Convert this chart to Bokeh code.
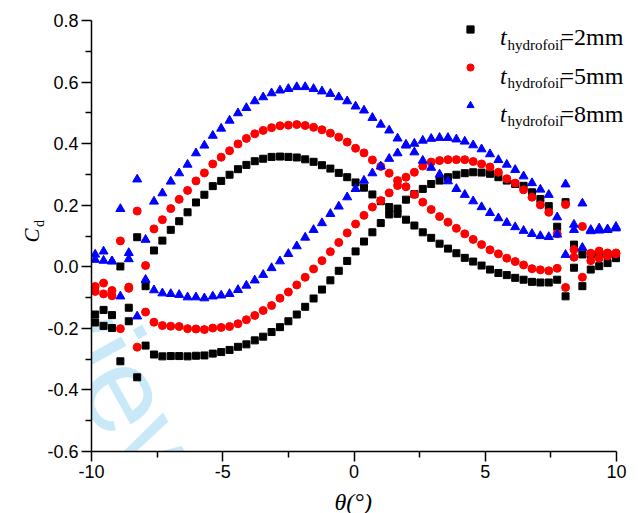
import math
from bokeh.plotting import figure
from bokeh.models import Range1d, FixedTicker, PrintfTickFormatter, Label, Legend, LegendItem
from bokeh.core.properties import value
from bokeh.embed import file_html
from bokeh.resources import INLINE

# pitch angle (deg)
theta = [-9.86, -9.54, -9.22, -8.90, -8.58, -8.26, -7.94, -7.62, -7.30, -6.98,
         -6.66, -6.34, -6.02, -5.70, -5.38, -5.06, -4.74, -4.42, -4.10, -3.78,
         -3.46, -3.14, -2.82, -2.50, -2.18, -1.86, -1.54, -1.22, -0.90, -0.58,
         -0.26, 0.06, 0.38, 0.70, 1.02, 1.34, 1.66, 1.98, 2.30, 2.62,
         2.94, 3.26, 3.58, 3.90, 4.22, 4.54, 4.86, 5.18, 5.50, 5.82,
         6.14, 6.46, 6.78, 7.10, 7.42, 7.74, 8.06, 8.38, 8.70, 9.02,
         9.34, 9.66, 9.98]

# t = 2 mm : two branches of the loop
cd_2mm_a = [-0.155, -0.140, -0.157, 0.001, -0.133, 0.096, -0.063, 0.053, 0.085, 0.120,
            0.148, 0.177, 0.209, 0.234, 0.262, 0.279, 0.299, 0.317, 0.331, 0.343,
            0.351, 0.357, 0.358, 0.357, 0.355, 0.349, 0.341, 0.330, 0.319, 0.305,
            0.291, 0.274, 0.257, 0.235, 0.213, 0.194, 0.172, 0.153, 0.134, 0.112,
            0.094, 0.075, 0.059, 0.044, 0.029, 0.017, 0.004, -0.009, -0.020, -0.027,
            -0.036, -0.042, -0.049, -0.051, -0.051, -0.042, -0.096, -0.003, -0.063, -0.009,
            0.002, 0.012, 0.028]
cd_2mm_b = [-0.181, -0.192, -0.199, -0.307, -0.177, -0.359, -0.256, -0.285, -0.291, -0.290,
            -0.290, -0.291, -0.289, -0.288, -0.282, -0.277, -0.270, -0.260, -0.252, -0.239,
            -0.227, -0.212, -0.196, -0.177, -0.155, -0.130, -0.103, -0.074, -0.044, -0.013,
            0.019, 0.050, 0.082, 0.112, 0.142, 0.170, 0.189, 0.218, 0.236, 0.253,
            0.269, 0.280, 0.291, 0.299, 0.304, 0.307, 0.306, 0.302, 0.291, 0.280,
            0.269, 0.263, 0.242, 0.220, 0.197, 0.130, 0.210, 0.072, 0.040, 0.040,
            0.040, 0.040, 0.030]

# t = 5 mm
cd_5mm_a = [-0.064, -0.053, -0.077, 0.084, -0.066, 0.181, 0.004, 0.123, 0.153, 0.189,
            0.219, 0.248, 0.279, 0.305, 0.334, 0.356, 0.377, 0.399, 0.417, 0.432,
            0.443, 0.452, 0.458, 0.460, 0.462, 0.459, 0.453, 0.445, 0.434, 0.421,
            0.405, 0.385, 0.370, 0.347, 0.326, 0.304, 0.280, 0.260, 0.235, 0.210,
            0.186, 0.163, 0.145, 0.125, 0.107, 0.089, 0.072, 0.055, 0.042, 0.028,
            0.017, 0.006, -0.006, -0.010, -0.013, -0.005, -0.067, 0.031, -0.034, 0.020,
            0.028, 0.035, 0.042]
cd_5mm_b = [-0.080, -0.088, -0.094, -0.201, -0.070, -0.261, -0.147, -0.180, -0.191, -0.193,
            -0.194, -0.201, -0.202, -0.204, -0.199, -0.197, -0.194, -0.185, -0.172, -0.158,
            -0.142, -0.126, -0.102, -0.082, -0.059, -0.034, -0.007, 0.020, 0.049, 0.079,
            0.110, 0.139, 0.167, 0.194, 0.215, 0.240, 0.264, 0.291, 0.307, 0.327,
            0.340, 0.345, 0.348, 0.348, 0.348, 0.342, 0.334, 0.324, 0.307, 0.286,
            0.272, 0.250, 0.226, 0.201, 0.177, 0.107, 0.202, 0.056, 0.131, 0.044,
            0.051, 0.045, 0.045]

# t = 8 mm
cd_8mm_a = [0.040, 0.050, 0.018, 0.188, 0.045, 0.284, 0.088, 0.212, 0.239, 0.277,
            0.304, 0.332, 0.369, 0.394, 0.426, 0.449, 0.475, 0.499, 0.516, 0.538,
            0.551, 0.564, 0.573, 0.578, 0.584, 0.584, 0.578, 0.570, 0.562, 0.551,
            0.538, 0.521, 0.508, 0.484, 0.462, 0.443, 0.417, 0.397, 0.372, 0.345,
            0.322, 0.300, 0.278, 0.253, 0.234, 0.213, 0.194, 0.175, 0.158, 0.143,
            0.129, 0.117, 0.107, 0.100, 0.097, 0.105, 0.039, 0.120, 0.062, 0.116,
            0.118, 0.120, 0.125]
cd_8mm_b = [0.023, 0.020, 0.018, -0.096, 0.025, -0.161, -0.042, -0.076, -0.086, -0.088,
            -0.091, -0.099, -0.099, -0.102, -0.096, -0.093, -0.088, -0.075, -0.061, -0.044,
            -0.026, -0.004, 0.018, 0.042, 0.067, 0.095, 0.120, 0.142, 0.172, 0.196,
            0.226, 0.253, 0.280, 0.304, 0.326, 0.351, 0.369, 0.394, 0.400, 0.410,
            0.416, 0.419, 0.419, 0.414, 0.407, 0.395, 0.382, 0.366, 0.347, 0.332,
            0.315, 0.294, 0.272, 0.251, 0.234, 0.161, 0.268, 0.137, 0.206, 0.120,
            0.125, 0.122, 0.130]

x_ticks = [-10, -5, 0, 5, 10]
x_minor = [-7.5, -2.5, 2.5, 7.5]
y_ticks = [-0.6, -0.4, -0.2, 0.0, 0.2, 0.4, 0.6, 0.8]
y_minor = [-0.5, -0.3, -0.1, 0.1, 0.3, 0.5, 0.7]
legend_values = ["=2mm", "=5mm", "=8mm"]

# page geometry: canvas fills the 638x513 window; axes box 91..616 x 20..451
W, H = 638, 513
FL, FR, FT, FB = 91, 616, 20, 451
X0, X1, Y0, Y1 = -10, 10, -0.6, 0.8
XPX = (FR - FL) / (X1 - X0)
YPX = (FB - FT) / (Y1 - Y0)
X_END = X1 + (W - FR) / XPX   # let the frame run to the right edge so legend text is not clipped

p = figure(width=W, height=H, x_range=Range1d(X0, X_END), y_range=Range1d(Y0, Y1),
           output_backend="svg", toolbar_location=None,
           min_border_left=FL, min_border_right=0, min_border_top=FT, min_border_bottom=H - FB)
p.outline_line_color = None
p.xgrid.visible = False
p.ygrid.visible = False
p.background_fill_color = "white"
p.border_fill_color = "white"

def dx(px):
    return X0 + (px - FL) / XPX
def dy(py):
    return Y0 + (FB - py) / YPX

def lab(px, py, text, size, style="normal", font="Liberation Sans", angle=0.0,
        color="black", level="annotation", place="center"):
    l = Label(x=dx(px), y=dy(py), text=text, text_font=font, text_font_size=f"{size}px",
              text_font_style=style, angle=angle, text_color=color,
              text_baseline="alphabetic", text_align="left", level=level)
    p.add_layout(l, place)
    return l

SERIF = "Liberation Serif"

# faint review watermark behind the data
lab(-8, 150, "Review", 122, angle=-1.065, color="#c9e9f9", level="underlay")

r2 = p.scatter(theta + theta, cd_2mm_a + cd_2mm_b, marker="square", size=7,
               fill_color="black", line_color="black")
r5 = p.scatter(theta + theta, cd_5mm_a + cd_5mm_b, marker="circle", size=8,
               fill_color="#ff0000", line_color="#ff0000")
r8 = p.scatter(theta + theta, cd_8mm_a + cd_8mm_b, marker="triangle", size=9,
               fill_color="#0000ff", line_color="#0000ff")

legend = Legend(items=[LegendItem(label=value(" "), renderers=[r]) for r in (r2, r5, r8)],
                location=(470 - FL - 9, (FB - FT) - 94), glyph_width=18, glyph_height=18,
                label_height=18, label_width=1, spacing=20, padding=0, margin=0,
                label_standoff=0, label_text_font_size="8px", border_line_color=None,
                background_fill_alpha=0)
p.add_layout(legend)

for ax in (p.xaxis[0], p.yaxis[0]):
    ax.axis_line_width = 1.5
    ax.axis_line_color = "black"
    ax.major_tick_line_width = 1.5
    ax.minor_tick_line_width = 1.5
    ax.major_tick_in = 0
    ax.major_tick_out = 10
    ax.minor_tick_in = 0
    ax.minor_tick_out = 6
    ax.major_label_text_font = "Liberation Sans"
    ax.major_label_text_font_size = "18px"
    ax.major_label_text_color = "black"
    ax.major_label_standoff = 3

p.xaxis[0].bounds = (X0, X1)
p.xaxis[0].ticker = FixedTicker(ticks=x_ticks, minor_ticks=x_minor)
p.yaxis[0].ticker = FixedTicker(ticks=y_ticks, minor_ticks=y_minor)
p.xaxis[0].formatter = PrintfTickFormatter(format="%d")
p.yaxis[0].formatter = PrintfTickFormatter(format="%.1f")

# legend texts
for i, txt in enumerate(legend_values):
    b = 36.7 + 38.3 * i
    lab(499.5, b, "t", 24, "italic", font=SERIF)
    lab(507, b + 7.5, "hydrofoil", 15, font=SERIF)
    lab(560, b, txt, 24, font=SERIF)

# axis titles (placed in the side panels so they are not clipped by the frame)
lab(334, 501, "θ(°)", 24, "italic", font=SERIF, place="below")
lab(31.7, 242, "C", 21, "italic", font=SERIF, angle=math.pi / 2, place="left")
lab(38.5, 226.5, "d", 14, font=SERIF, angle=math.pi / 2, place="left")

open("out.html", "w").write(file_html(p, INLINE))
